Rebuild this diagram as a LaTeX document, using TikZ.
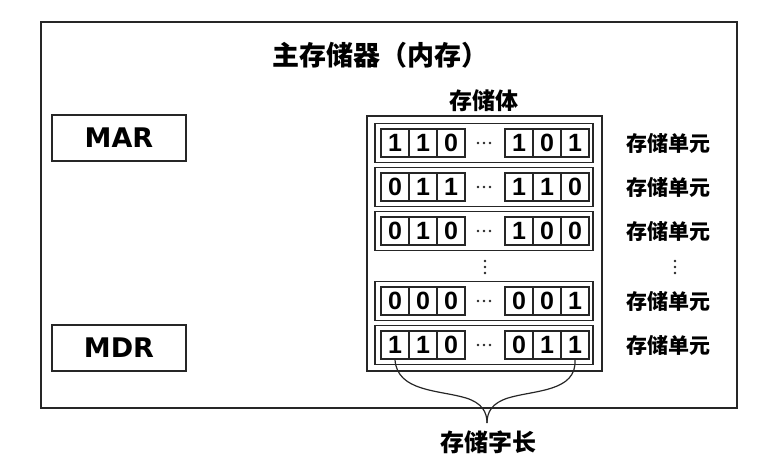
\documentclass[tikz,border=0pt]{standalone}
\usepackage{fontspec}
\setmainfont{Noto Sans CJK SC}
\newfontfamily\regfont{DejaVu Sans}
\newfontfamily\bitfont{Liberation Sans}
\begin{document}
\begin{tikzpicture}[x=1pt, y=-1pt, line width=1.3pt, draw=black!85,
    reg/.style={draw, minimum width=134pt, minimum height=46pt, font=\regfont\fontsize{27}{27}\selectfont\bfseries},
    cell/.style={draw, minimum size=28pt, inner sep=0pt, font=\bitfont\fontsize{25}{25}\selectfont\bfseries},
    word/.style={draw, line width=1.6pt, minimum width=218pt, minimum height=39pt},
    unit/.style={font=\fontsize{21}{21}\selectfont\bfseries},
    dot/.style={circle, fill=black!85, inner sep=0pt, minimum size=2.8pt}]
  \useasboundingbox (0,0) rectangle (770,472);
  \node[draw, minimum width=696pt, minimum height=386pt] (mem) at (389,215) {};
  \node[font=\fontsize{27}{27}\selectfont\bfseries] (title) at (380,55) {主存储器（内存）};
  \node[reg] (mar) at (119,138) {MAR};
  \node[reg] (mdr) at (119,348) {MDR};
  \node[draw, minimum width=235pt, minimum height=255pt] (body) at (484.5,243.5) {};
  \node[font=\fontsize{23}{23}\selectfont\bfseries] (bodylabel) at (484,101) {存储体};
  \foreach \y/\a/\b/\c/\d/\e/\f [count=\i] in
      {143/1/1/0/1/0/1, 187/0/1/1/1/1/0, 231/0/1/0/1/0/0, 301/0/0/0/0/0/1, 345/1/1/0/0/1/1} {
    \node[word] (w\i) at (484,\y) {};
    \node[cell] (c\i1) at (395,\y) {\a};
    \node[cell] (c\i2) at (423,\y) {\b};
    \node[cell] (c\i3) at (451,\y) {\c};
    \foreach \x in {478,484,490}
      \node[dot] at (\x,\y) {};
    \node[cell] (c\i4) at (519,\y) {\d};
    \node[cell] (c\i5) at (547,\y) {\e};
    \node[cell] (c\i6) at (575,\y) {\f};
    \node[unit] (u\i) at (668,\y) {存储单元};
  }
  % vertical dots between the rows
  \foreach \x in {485,675}
    \foreach \y in {261,267,273}
      \node[dot] at (\x,\y) {};
  % brace under the last word
  \coordinate (tip) at (487,423);
  \draw[line width=1.2pt] (c51.south) .. controls (397,392) and (440,390) .. (466,398)
    .. controls (482,403) and (487,412) .. (tip);
  \draw[line width=1.2pt] (c56.south) .. controls (577,392) and (534,390) .. (508,398)
    .. controls (492,403) and (487,412) .. (tip);
  \node[font=\fontsize{24}{24}\selectfont\bfseries] (len) at (488,442) {存储字长};
\end{tikzpicture}
\end{document}
